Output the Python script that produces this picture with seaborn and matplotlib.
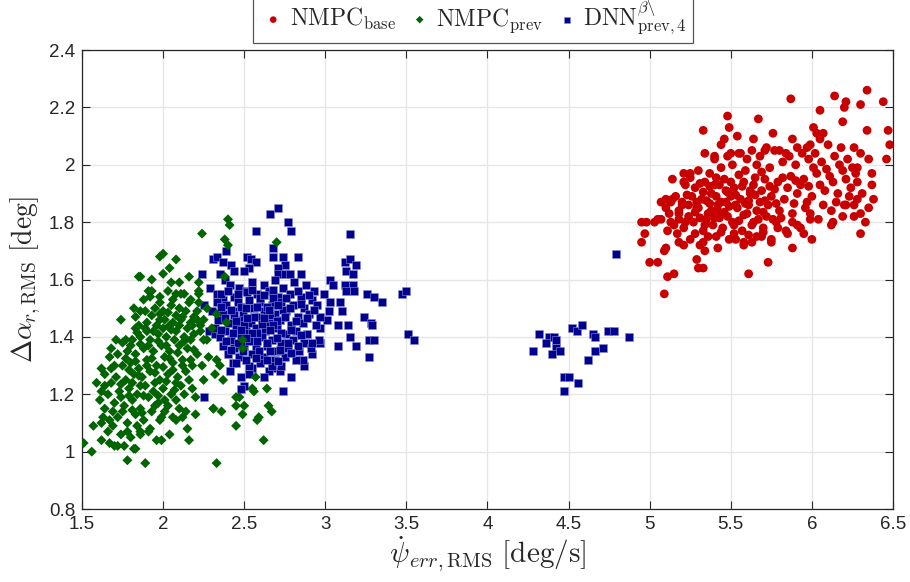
import seaborn as sns
import matplotlib.pyplot as plt
import pandas as pd
from matplotlib.ticker import FormatStrFormatter

# points (x = yaw rate error RMS, y = slip angle RMS)
base_pts = [
    (5.09, 1.55), (5.11, 1.61), (5.15, 1.62), (5.00, 1.66), (5.05, 1.66), (5.09, 1.70), (5.10, 1.71),
    (4.95, 1.73), (4.97, 1.76), (4.95, 1.80), (4.98, 1.80), (5.03, 1.80), (5.05, 1.81), (5.07, 1.81),
    (5.13, 1.80), (5.07, 1.87), (5.10, 1.88), (5.13, 1.87), (5.14, 1.95), (5.16, 1.89), (5.20, 1.86),
    (5.18, 1.83), (5.18, 1.73), (5.21, 1.72), (5.29, 1.67), (5.30, 1.64), (5.33, 1.64), (5.31, 1.72),
    (5.34, 1.70), (5.33, 2.12), (5.34, 2.04), (5.40, 2.03), (5.44, 2.07), (5.46, 2.09), (5.48, 2.17),
    (5.49, 2.13), (5.54, 2.10), (5.50, 2.04), (5.56, 2.04), (5.64, 2.09), (5.67, 2.16), (5.76, 2.11),
    (5.71, 2.05), (5.77, 2.05), (5.84, 2.04), (5.88, 2.09), (5.91, 2.06), (5.87, 2.23), (6.05, 2.19),
    (6.01, 2.13), (6.03, 2.11), (6.07, 2.11), (6.05, 2.09), (5.99, 2.07), (6.14, 2.24), (6.21, 2.22),
    (6.20, 2.20), (6.30, 2.21), (6.34, 2.26), (6.44, 2.22), (6.19, 2.15), (6.34, 2.12), (6.47, 2.12),
    (6.48, 2.07), (6.46, 2.02), (6.35, 2.02), (6.28, 1.99), (6.37, 1.97), (6.37, 1.93), (6.38, 1.88),
    (6.35, 1.85), (6.33, 1.80), (6.30, 1.76), (6.30, 1.83), (6.26, 1.82), (6.26, 1.86), (6.21, 1.86),
    (6.19, 1.82), (6.13, 1.80), (6.12, 1.79), (6.00, 1.74), (5.88, 1.71), (5.73, 1.66), (5.61, 1.62),
    (5.75, 1.73), (5.58, 1.72), (5.63, 1.73), (5.53, 1.74), (5.42, 1.71), (5.69, 1.75), (5.84, 1.77),
    (5.95, 1.76), (5.99, 1.81), (5.91, 1.79), (5.21, 1.97), (5.25, 1.97), (5.21, 1.94),
    (5.15, 1.79), (5.21, 1.78), (5.27, 1.80), (5.33, 1.77), (5.39, 1.79), (5.45, 1.78), (5.51, 1.80),
    (5.57, 1.77), (5.63, 1.79), (5.70, 1.78), (5.78, 1.80), (5.12, 1.83), (5.18, 1.84), (5.24, 1.82),
    (5.30, 1.85), (5.36, 1.83), (5.42, 1.84), (5.48, 1.82), (5.54, 1.85), (5.60, 1.83), (5.66, 1.84),
    (5.72, 1.82), (5.80, 1.84), (5.88, 1.83), (5.96, 1.85), (5.14, 1.88), (5.20, 1.87), (5.26, 1.89),
    (5.32, 1.88), (5.38, 1.90), (5.44, 1.87), (5.50, 1.89), (5.56, 1.88), (5.62, 1.90), (5.68, 1.87),
    (5.75, 1.89), (5.83, 1.88), (5.91, 1.90), (6.00, 1.89), (6.08, 1.91), (6.16, 1.90), (6.24, 1.92),
    (5.22, 1.93), (5.28, 1.92), (5.34, 1.94), (5.40, 1.93), (5.46, 1.95), (5.52, 1.92), (5.58, 1.94),
    (5.64, 1.93), (5.71, 1.95), (5.79, 1.94), (5.87, 1.96), (5.95, 1.95), (6.03, 1.97), (6.11, 1.96),
    (6.19, 1.98), (6.27, 1.97), (5.30, 1.98), (5.37, 1.97), (5.44, 1.99), (5.51, 2.00), (5.59, 1.98),
    (5.66, 2.00), (5.74, 1.99), (5.82, 2.01), (5.90, 2.00), (5.98, 2.02), (6.06, 2.01), (6.14, 2.03),
    (6.22, 2.02), (6.30, 2.04), (5.25, 1.74), (5.33, 1.73), (5.41, 1.75), (5.49, 1.74), (5.58, 1.73),
    (5.66, 1.75), (5.75, 1.74), (5.85, 1.76), (5.93, 1.78), (6.04, 1.81), (6.12, 1.84), (6.20, 1.86),
    (6.28, 1.88), (5.55, 2.04), (5.63, 2.05), (5.72, 2.06), (5.80, 2.05), (5.97, 2.06), (6.10, 2.07),
    (6.18, 2.06), (5.42, 1.86), (5.35, 1.81), (5.47, 1.91), (5.29, 1.85), (5.53, 1.86), (5.61, 1.86),
    (5.69, 1.91), (5.38, 1.84),
    (5.18, 1.81), (5.24, 1.86), (5.31, 1.815), (5.37, 1.865), (5.43, 1.815), (5.49, 1.855),
    (5.55, 1.805), (5.61, 1.875), (5.67, 1.81), (5.73, 1.86), (5.81, 1.815), (5.89, 1.865),
    (5.97, 1.87), (6.05, 1.93), (6.13, 1.94), (6.21, 1.95), (6.28, 1.94), (5.25, 1.955),
    (5.33, 1.905), (5.41, 1.955), (5.48, 1.905), (5.55, 1.965), (5.62, 1.91), (5.69, 1.975),
    (5.77, 1.915), (5.85, 1.92), (5.93, 1.93), (6.01, 1.99), (6.09, 1.985), (6.17, 2.00), (6.25, 1.99),
    (5.28, 1.76), (5.36, 1.75), (5.44, 1.765), (5.52, 1.76), (5.61, 1.755), (5.70, 1.765),
    (5.79, 1.78), (5.88, 1.80), (5.99, 1.83), (6.07, 1.86), (6.15, 1.87), (6.23, 1.89), (6.31, 1.90),
    (5.40, 2.02), (5.48, 2.03), (5.60, 2.02), (5.68, 2.03), (5.86, 2.03), (5.94, 2.04), (6.02, 2.04),
    (6.26, 2.06),
    (5.22, 1.80), (5.28, 1.835), (5.34, 1.79), (5.40, 1.815), (5.46, 1.835), (5.52, 1.79), (5.58, 1.825),
    (5.64, 1.80), (5.70, 1.835), (5.76, 1.81), (5.23, 1.895), (5.29, 1.87), (5.35, 1.875), (5.41, 1.89),
    (5.47, 1.87), (5.53, 1.895), (5.59, 1.865), (5.65, 1.895), (5.71, 1.875), (5.78, 1.865),
    (5.31, 1.935), (5.37, 1.925), (5.43, 1.93), (5.50, 1.94), (5.57, 1.925), (5.65, 1.955),
    (5.74, 1.925), (5.82, 1.955), (5.90, 1.945), (5.98, 1.925), (5.17, 1.76), (5.11, 1.77), (5.10, 1.85),
]

prev_pts = [
    (2.40, 1.81), (2.41, 1.79), (2.24, 1.76), (2.38, 1.74), (2.40, 1.72), (1.98, 1.68), (2.00, 1.69),
    (2.08, 1.67), (2.04, 1.64), (1.85, 1.61), (1.86, 1.61), (1.93, 1.60), (2.00, 1.62), (2.16, 1.61),
    (2.05, 1.59), (2.10, 1.59), (2.22, 1.59), (2.11, 1.55), (1.91, 1.56), (1.92, 1.54), (1.98, 1.52),
    (2.06, 1.53), (2.17, 1.53), (2.22, 1.56), (2.22, 1.52), (1.82, 1.50), (1.86, 1.49), (1.74, 1.46),
    (1.83, 1.47), (1.83, 1.43), (1.90, 1.42), (1.98, 1.46), (2.04, 1.44), (2.11, 1.46), (2.18, 1.44),
    (2.23, 1.42), (2.27, 1.39), (1.71, 1.39), (1.75, 1.38), (1.68, 1.36), (1.67, 1.33), (1.70, 1.30),
    (1.62, 1.29), (1.64, 1.27), (1.59, 1.24), (1.62, 1.21), (1.61, 1.18), (1.64, 1.23), (1.63, 1.12),
    (1.67, 1.11), (1.69, 1.09), (1.57, 1.09), (1.62, 1.04), (1.67, 1.03), (1.51, 1.03), (1.56, 1.00),
    (1.72, 1.02), (1.76, 1.02), (1.82, 1.01), (1.83, 1.01), (1.78, 0.97), (1.89, 0.96), (1.86, 1.06),
    (1.91, 1.07), (1.98, 1.11), (1.99, 1.04), (2.04, 1.06), (2.08, 1.11), (2.12, 1.12), (2.16, 1.04),
    (2.15, 1.08), (2.20, 1.13), (2.31, 1.15), (2.36, 1.14), (2.45, 1.09), (2.49, 1.13), (2.45, 1.16),
    (2.58, 1.11), (2.56, 1.21), (2.45, 1.19), (2.37, 1.25), (2.32, 1.27), (2.33, 0.96), (2.49, 1.39),
    (2.39, 1.45), (2.33, 1.48), (2.33, 1.32), (2.35, 1.30), (2.70, 1.73), (2.38, 1.61), (2.57, 1.26),
    (2.55, 1.22), (2.64, 1.22), (2.47, 1.19), (2.65, 1.16), (2.67, 1.14), (2.59, 1.12), (2.50, 1.16),
    (2.31, 1.15), (2.62, 1.04), (2.49, 1.36),
    (1.72, 1.12), (1.78, 1.10), (1.83, 1.13), (1.88, 1.11), (1.93, 1.14), (1.99, 1.12), (1.70, 1.17),
    (1.76, 1.16), (1.81, 1.18), (1.86, 1.15), (1.91, 1.19), (1.97, 1.17), (2.03, 1.16), (2.08, 1.18),
    (1.73, 1.21), (1.79, 1.22), (1.84, 1.20), (1.89, 1.23), (1.94, 1.21), (2.00, 1.22), (2.05, 1.20),
    (2.11, 1.23), (1.71, 1.26), (1.77, 1.25), (1.82, 1.27), (1.87, 1.26), (1.92, 1.28), (1.98, 1.25),
    (2.03, 1.27), (2.09, 1.26), (2.14, 1.28), (1.75, 1.30), (1.80, 1.31), (1.85, 1.29), (1.90, 1.32),
    (1.96, 1.30), (2.01, 1.33), (2.06, 1.31), (2.12, 1.32), (2.18, 1.30), (1.78, 1.35), (1.83, 1.34),
    (1.88, 1.36), (1.94, 1.35), (1.99, 1.37), (2.04, 1.35), (2.10, 1.37), (2.15, 1.36), (2.21, 1.34),
    (1.81, 1.39), (1.86, 1.40), (1.92, 1.39), (1.97, 1.41), (2.02, 1.40), (2.08, 1.42), (2.13, 1.40),
    (2.19, 1.41), (2.25, 1.39), (1.85, 1.44), (1.90, 1.45), (1.96, 1.44), (2.01, 1.46), (2.06, 1.45),
    (2.12, 1.47), (2.17, 1.45), (2.23, 1.44), (1.89, 1.49), (1.95, 1.50), (2.00, 1.49), (2.05, 1.51),
    (2.10, 1.50), (2.16, 1.52), (2.21, 1.49), (1.66, 1.20), (1.68, 1.29), (1.74, 1.06), (1.80, 1.05),
    (1.86, 1.07), (1.92, 1.08), (2.06, 1.12), (2.14, 1.14), (2.20, 1.19), (2.25, 1.25), (2.28, 1.33),
    (2.30, 1.43), (2.27, 1.50), (2.22, 1.55), (2.08, 1.55), (1.98, 1.54), (1.93, 1.56), (1.64, 1.15),
    (1.62, 1.10), (1.77, 1.39), (1.72, 1.34), (1.70, 1.02), (1.96, 1.04),
    (1.75, 1.14), (1.81, 1.145), (1.87, 1.135), (1.95, 1.16), (2.01, 1.14), (1.74, 1.19), (1.79, 1.195),
    (1.88, 1.195), (1.97, 1.195), (2.07, 1.215), (2.13, 1.20), (1.74, 1.235), (1.81, 1.24), (1.86, 1.23),
    (1.95, 1.24), (2.02, 1.245), (2.08, 1.24), (2.16, 1.25), (1.79, 1.285), (1.85, 1.265), (1.90, 1.30),
    (1.95, 1.275), (2.00, 1.295), (2.06, 1.285), (2.12, 1.30), (2.17, 1.32), (1.77, 1.325), (1.83, 1.315),
    (1.93, 1.325), (2.04, 1.325), (2.09, 1.345), (2.19, 1.355), (1.80, 1.37), (1.86, 1.375), (1.91, 1.37),
    (1.97, 1.385), (2.02, 1.37), (2.07, 1.39), (2.13, 1.385), (2.17, 1.39), (1.84, 1.415), (1.89, 1.43),
    (1.94, 1.42), (2.00, 1.43), (2.05, 1.425), (2.10, 1.44), (2.15, 1.43), (2.21, 1.46), (1.93, 1.475),
    (1.98, 1.48), (2.03, 1.485), (2.08, 1.475), (2.14, 1.49), (1.68, 1.24), (1.69, 1.14), (1.66, 1.07),
    (1.78, 1.07), (1.84, 1.09), (2.01, 1.18), (2.10, 1.15), (2.18, 1.22), (2.24, 1.30), (2.25, 1.46),
    (2.19, 1.47), (2.13, 1.55), (2.03, 1.56), (1.88, 1.53),
]

dnn_pts = [
    (4.79, 1.69), (4.32, 1.41), (4.38, 1.40), (4.41, 1.40), (4.42, 1.39), (4.36, 1.38), (4.28, 1.35),
    (4.42, 1.36), (4.40, 1.34), (4.45, 1.35), (4.52, 1.43), (4.55, 1.42), (4.58, 1.44), (4.65, 1.41),
    (4.66, 1.40), (4.74, 1.42), (4.78, 1.42), (4.87, 1.40), (4.71, 1.36), (4.66, 1.35), (4.62, 1.32),
    (4.47, 1.26), (4.50, 1.26), (4.56, 1.24), (4.47, 1.21),
    (2.71, 1.85), (2.66, 1.83), (2.77, 1.80), (2.79, 1.77), (2.57, 1.77), (3.15, 1.76), (2.68, 1.71),
    (2.39, 1.70), (2.31, 1.67), (2.33, 1.68), (2.37, 1.66), (2.52, 1.68), (2.54, 1.67), (2.57, 1.66),
    (2.68, 1.68), (2.74, 1.68), (2.83, 1.68), (2.75, 1.65), (2.42, 1.65), (2.53, 1.64), (2.50, 1.63),
    (2.24, 1.62), (2.35, 1.62), (2.44, 1.63), (2.71, 1.64), (2.71, 1.62), (2.75, 1.62), (2.78, 1.62),
    (2.85, 1.62), (3.12, 1.66), (3.15, 1.67), (3.19, 1.65), (3.13, 1.63), (3.17, 1.62), (3.03, 1.60),
    (3.05, 1.58), (3.12, 1.58), (3.17, 1.58), (3.13, 1.56), (3.18, 1.56), (3.26, 1.55), (3.30, 1.54),
    (3.35, 1.52), (3.47, 1.55), (3.50, 1.56), (3.51, 1.41), (3.55, 1.39), (3.24, 1.47), (3.28, 1.45),
    (3.29, 1.44), (3.27, 1.39), (3.30, 1.39), (3.27, 1.33), (3.19, 1.37), (3.15, 1.40), (3.08, 1.37),
    (3.14, 1.44), (3.08, 1.44), (3.10, 1.49), (3.09, 1.52), (3.02, 1.49), (3.01, 1.46), (2.97, 1.43),
    (2.97, 1.38), (2.92, 1.34), (2.87, 1.30), (2.86, 1.32), (2.79, 1.26), (2.72, 1.28), (2.67, 1.29),
    (2.65, 1.28), (2.62, 1.26), (2.55, 1.29), (2.53, 1.27), (2.48, 1.26), (2.43, 1.31), (2.41, 1.28),
    (2.50, 1.23), (2.48, 1.22), (2.74, 1.21), (2.25, 1.19), (2.28, 1.42), (2.32, 1.41), (2.25, 1.51),
    (2.29, 1.57), (2.33, 1.55), (2.37, 1.53), (2.38, 1.60),
    (2.41, 1.58), (2.47, 1.57), (2.55, 1.59), (2.62, 1.58), (2.69, 1.60), (2.74, 1.57), (2.81, 1.59),
    (2.88, 1.58), (2.93, 1.56), (2.36, 1.55), (2.44, 1.54), (2.51, 1.56), (2.58, 1.55), (2.65, 1.56),
    (2.71, 1.54), (2.78, 1.55), (2.85, 1.54), (2.92, 1.53), (2.99, 1.55), (2.33, 1.52), (2.39, 1.51),
    (2.46, 1.52), (2.53, 1.53), (2.60, 1.52), (2.67, 1.51), (2.73, 1.52), (2.80, 1.51), (2.87, 1.50),
    (2.95, 1.51), (3.03, 1.52), (2.30, 1.49), (2.37, 1.48), (2.43, 1.49), (2.49, 1.48), (2.56, 1.50),
    (2.62, 1.49), (2.69, 1.48), (2.76, 1.49), (2.83, 1.47), (2.90, 1.48), (2.97, 1.47), (2.34, 1.46),
    (2.41, 1.45), (2.47, 1.46), (2.54, 1.45), (2.59, 1.47), (2.65, 1.45), (2.72, 1.46), (2.79, 1.44),
    (2.86, 1.45), (2.94, 1.44), (2.32, 1.43), (2.38, 1.42), (2.45, 1.43), (2.51, 1.42), (2.57, 1.43),
    (2.63, 1.42), (2.70, 1.43), (2.76, 1.41), (2.82, 1.42), (2.89, 1.41), (2.35, 1.40), (2.42, 1.39),
    (2.48, 1.40), (2.54, 1.39), (2.61, 1.40), (2.67, 1.39), (2.73, 1.38), (2.80, 1.39), (2.87, 1.38),
    (2.96, 1.39), (2.37, 1.37), (2.44, 1.36), (2.50, 1.37), (2.57, 1.36), (2.64, 1.37), (2.70, 1.35),
    (2.77, 1.36), (2.84, 1.35), (2.91, 1.36), (2.40, 1.34), (2.47, 1.33), (2.55, 1.34), (2.62, 1.33),
    (2.69, 1.32), (2.75, 1.33), (2.82, 1.32), (2.45, 1.31), (2.53, 1.30), (2.60, 1.31), (2.67, 1.30),
    (2.73, 1.30), (2.50, 1.44), (2.56, 1.47), (2.61, 1.445), (2.66, 1.475), (2.48, 1.505), (2.58, 1.415),
    (2.64, 1.505), (2.70, 1.455), (2.53, 1.385), (2.44, 1.475), (2.74, 1.495), (2.60, 1.535),
    (2.52, 1.555), (2.68, 1.535),
    (2.40, 1.56), (2.46, 1.55), (2.55, 1.565), (2.62, 1.545), (2.68, 1.565), (2.76, 1.535), (2.83, 1.56),
    (2.90, 1.545), (2.36, 1.505), (2.42, 1.495), (2.51, 1.50), (2.58, 1.505), (2.65, 1.495), (2.71, 1.51),
    (2.78, 1.50), (2.85, 1.515), (2.93, 1.495), (2.38, 1.465), (2.45, 1.455), (2.52, 1.465), (2.62, 1.465),
    (2.68, 1.44), (2.75, 1.47), (2.82, 1.455), (2.89, 1.465), (2.36, 1.425), (2.43, 1.415), (2.48, 1.425),
    (2.55, 1.415), (2.66, 1.425), (2.73, 1.415), (2.79, 1.425), (2.85, 1.405), (2.39, 1.385), (2.46, 1.38),
    (2.51, 1.395), (2.58, 1.385), (2.64, 1.38), (2.70, 1.395), (2.77, 1.38), (2.83, 1.37), (2.92, 1.38),
    (2.42, 1.355), (2.49, 1.35), (2.59, 1.35), (2.66, 1.35), (2.72, 1.355), (2.79, 1.345), (2.51, 1.32),
    (2.57, 1.325), (2.64, 1.32), (2.71, 1.315),
]

labels = [r'$\mathrm{NMPC}_{\mathrm{base}}$',
          r'$\mathrm{NMPC}_{\mathrm{prev}}$',
          r'$\mathrm{DNN}^{\beta\backslash}_{\mathrm{prev},4}$']

base = pd.DataFrame(base_pts, columns=["x", "y"])
prev = pd.DataFrame(prev_pts, columns=["x", "y"])
dnn = pd.DataFrame(dnn_pts, columns=["x", "y"])

sns.set_style("ticks")
plt.rcParams['font.family'] = ['Liberation Sans', 'DejaVu Sans']
plt.rcParams['mathtext.fontset'] = 'cm'

fig, ax = plt.subplots(figsize=(9.1, 5.82), dpi=100)
fig.subplots_adjust(left=0.0901, right=0.9813, bottom=0.1254, top=0.914)

sns.scatterplot(data=base, x="x", y="y", ax=ax, marker="o", s=40, color="#c80000",
                edgecolor="none", label=labels[0], zorder=3)
sns.scatterplot(data=prev, x="x", y="y", ax=ax, marker="D", s=26, color="#006400",
                edgecolor="none", label=labels[1], zorder=4)
sns.scatterplot(data=dnn, x="x", y="y", ax=ax, marker="s", s=26, color="#000090",
                edgecolor="#8c8cd0", linewidth=0.4, label=labels[2], zorder=3)

ax.set_xlim(1.5, 6.5)
ax.set_ylim(0.8, 2.4)
ax.set_xticks([1.5, 2, 2.5, 3, 3.5, 4, 4.5, 5, 5.5, 6, 6.5])
ax.set_yticks([0.8, 1, 1.2, 1.4, 1.6, 1.8, 2, 2.2, 2.4])
ax.xaxis.set_major_formatter(FormatStrFormatter('%g'))
ax.yaxis.set_major_formatter(FormatStrFormatter('%g'))
ax.grid(True, color="#e6e6e6", linewidth=1)
ax.set_axisbelow(True)
ax.tick_params(direction="in", top=True, right=True, length=6, width=0.8,
               labelsize=13.5, labelcolor="#262626", pad=5)
for sp in ax.spines.values():
    sp.set_color("#262626")
    sp.set_linewidth(0.9)

ax.set_xlabel(r'$\dot{\psi}_{err,\mathrm{RMS}}\ [\mathrm{deg/s}]$', fontsize=21, labelpad=1)
ax.set_ylabel(r'$\Delta\alpha_{r,\mathrm{RMS}}\ [\mathrm{deg}]$', fontsize=20, labelpad=4)

leg = ax.legend(loc="lower center", bbox_to_anchor=(0.482, 0.99), ncol=3, fontsize=17,
                frameon=True, fancybox=False, edgecolor="#555555", framealpha=1,
                handletextpad=0.1, columnspacing=0.4, borderpad=0.25, markerscale=0.75,
                handlelength=1.2)
leg.get_frame().set_linewidth(0.9)

fig.savefig("out.png", dpi=100)
